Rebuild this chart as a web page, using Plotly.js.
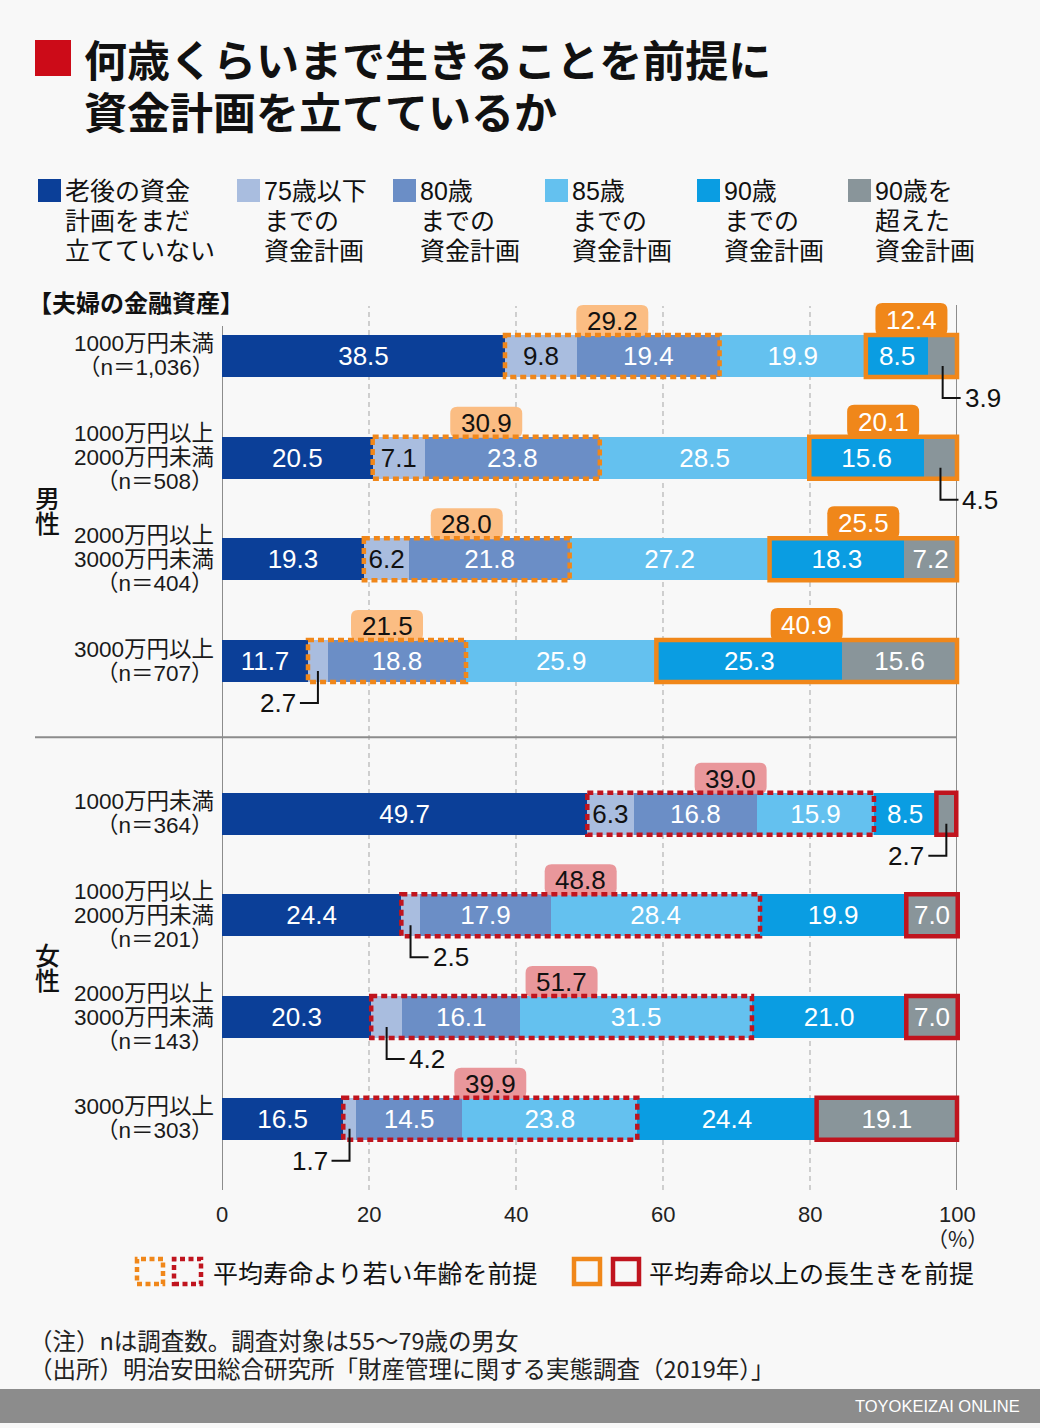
<!DOCTYPE html>
<html><head><meta charset="utf-8">
<script src="https://cdn.plot.ly/plotly-3.0.1.min.js"></script>
<style>html,body{margin:0;padding:0;background:#f8f8f8;}#chart{width:1040px;height:1428px;}</style>
</head><body><div id="chart"></div>
<script>
// ---------- DATA ----------
const titleLines = ['何歳くらいまで生きることを前提に', '資金計画を立てているか'];
const groupLabels = ['男性', '女性'];
const sectionLabel = '【夫婦の金融資産】';
const rowLabels = [
  ['1000万円未満', '（n＝1,036）'],
  ['1000万円以上', '2000万円未満', '（n＝508）'],
  ['2000万円以上', '3000万円未満', '（n＝404）'],
  ['3000万円以上', '（n＝707）'],
  ['1000万円未満', '（n＝364）'],
  ['1000万円以上', '2000万円未満', '（n＝201）'],
  ['2000万円以上', '3000万円未満', '（n＝143）'],
  ['3000万円以上', '（n＝303）']
];
const seriesNames = ['老後の資金計画をまだ立てていない', '75歳以下までの資金計画', '80歳までの資金計画', '85歳までの資金計画', '90歳までの資金計画', '90歳を超えた資金計画'];
const legendLines = [
  ['老後の資金', '計画をまだ', '立てていない'],
  ['75歳以下', 'までの', '資金計画'],
  ['80歳', 'までの', '資金計画'],
  ['85歳', 'までの', '資金計画'],
  ['90歳', 'までの', '資金計画'],
  ['90歳を', '超えた', '資金計画']
];
const notPlanned = [38.5, 20.5, 19.3, 11.7, 49.7, 24.4, 20.3, 16.5];
const upTo75     = [9.8, 7.1, 6.2, 2.7, 6.3, 2.5, 4.2, 1.7];
const upTo80     = [19.4, 23.8, 21.8, 18.8, 16.8, 17.9, 16.1, 14.5];
const upTo85     = [19.9, 28.5, 27.2, 25.9, 15.9, 28.4, 31.5, 23.8];
const upTo90     = [8.5, 15.6, 18.3, 25.3, 8.5, 19.9, 21.0, 24.4];
const over90     = [3.9, 4.5, 7.2, 15.6, 2.7, 7.0, 7.0, 19.1];
const youngerTotals = [29.2, 30.9, 28.0, 21.5, 39.0, 48.8, 51.7, 39.9];
const longerTotals  = [12.4, 20.1, 25.5, 40.9, null, null, null, null];
const xTicks = [0, 20, 40, 60, 80, 100];
const boxLegend = ['平均寿命より若い年齢を前提', '平均寿命以上の長生きを前提'];
const notes = ['（注）nは調査数。調査対象は55～79歳の男女', '（出所）明治安田総合研究所「財産管理に関する実態調査（2019年）」'];
const credit = 'TOYOKEIZAI ONLINE';

// ---------- STYLE / LAYOUT CONSTANTS ----------
const JP = "'Noto Sans CJK JP', sans-serif";
const NUM = "'Liberation Sans', 'Noto Sans CJK JP', sans-serif";
const colors = ['#0b3f98', '#a9bddf', '#6b8ec6', '#64c1ef', '#0a9de2', '#89959a'];
const textColors = ['#ffffff', '#111111', '#ffffff', '#ffffff', '#ffffff', '#ffffff'];
const ORANGE = '#f0871a', ORANGE_L = '#fbbd83', RED = '#c0141e', PINK = '#e9979b';
const rowPos = [0, 1, 2, 3, 4.5, 5.5, 6.5, 7.5];
const isMale = [true, true, true, true, false, false, false, false];
const calloutSide = ['right', 'right', null, 'left', 'left', 'right', 'right', 'left'];
const L = 222, R = 957, T = 300, B = 1190, W = 1040, H = 1428;
const YTOP = -0.55, YBOT = 8.2;
const PXX = (R - L) / 100, PXY = (B - T) / (YBOT - YTOP);
const BAR_H = 42 / PXY;
const xp = px => (px - L) / (R - L);
const yp = py => (B - py) / (B - T);
const dxp = x => x / 100;                       // data x -> paper x
const dyp = y => (YBOT - y) / (YBOT - YTOP);    // data y -> paper y

const series = [notPlanned, upTo75, upTo80, upTo85, upTo90, over90];

const traces = series.map((vals, s) => ({
  type: 'bar', orientation: 'h', name: seriesNames[s], x: vals, y: rowPos, width: BAR_H,
  marker: {color: colors[s], line: {width: 0}},
  text: vals.map(v => v < 5 ? '' : v.toFixed(1)),
  textposition: 'inside', insidetextanchor: 'middle', textangle: 0, constraintext: 'none',
  textfont: {family: NUM, size: 26, color: textColors[s]},
  hoverinfo: 'skip', showlegend: false
}));

const shapes = [];
const annotations = [];
function txt(text, px, py, size, o) {
  o = o || {};
  annotations.push({xref: 'paper', yref: 'paper', x: xp(px), y: yp(py), text: text, showarrow: false,
    xanchor: o.xa || 'left', yanchor: 'middle', borderpad: 0,
    font: {family: o.family || JP, size: size, color: o.color || '#111', weight: o.weight || 400}});
}

// grid lines & axis lines
[20, 40, 60, 80].forEach(v => shapes.push({type: 'line', xref: 'x', yref: 'paper', x0: v, x1: v, y0: 0, y1: yp(306), line: {color: '#b4b4b4', width: 1.2, dash: '5px,4px'}, layer: 'below'}));
shapes.push({type: 'line', xref: 'x', yref: 'paper', x0: 100, x1: 100, y0: 0, y1: yp(305), line: {color: '#8c8c8c', width: 2}, layer: 'below'});
shapes.push({type: 'line', xref: 'x', yref: 'paper', x0: 0, x1: 0, y0: 0, y1: yp(326), line: {color: '#8c8c8c', width: 2}, layer: 'below'});
shapes.push({type: 'line', xref: 'paper', yref: 'y', x0: xp(35), x1: 1, y0: 3.75, y1: 3.75, line: {color: '#8c8c8c', width: 2}, layer: 'below'});

// cumulative starts
const starts = rowPos.map((_, r) => { let c = 0; return series.map(vals => { const st = c; c += vals[r]; return st; }); });
function spanOf(r, a, b) { const x0 = starts[r][a]; const x1 = starts[r][b] + series[b][r]; return [x0, x1]; }

function roundRect(xc, ytopPx, wpx, hpx, rpx, pos) {
  const xs = wpx / 2 / PXX, rx = rpx / PXX, ry = rpx / PXY;
  const y0 = pos + ytopPx / PXY, y1 = pos + (ytopPx + hpx) / PXY;
  const a = xc - xs, b = xc + xs;
  return `M${a + rx},${y0} L${b - rx},${y0} Q${b},${y0} ${b},${y0 + ry} L${b},${y1 - ry} Q${b},${y1} ${b - rx},${y1} L${a + rx},${y1} Q${a},${y1} ${a},${y1 - ry} L${a},${y0 + ry} Q${a},${y0} ${a + rx},${y0} Z`;
}

rowPos.forEach((pos, r) => {
  const male = isMale[r];
  const yTop = pos - BAR_H / 2, yBot = pos + BAR_H / 2;
  const ys = male ? spanOf(r, 1, 2) : spanOf(r, 1, 3);
  const ls = male ? spanOf(r, 4, 5) : spanOf(r, 5, 5);
  const yc = (ys[0] + ys[1]) / 2;
  shapes.push({type: 'path', xref: 'x', yref: 'y', path: roundRect(yc, -21 - 30, 72, 31, 7, pos), fillcolor: male ? ORANGE_L : PINK, line: {width: 0}, layer: 'above'});
  annotations.push({xref: 'x', yref: 'y', x: yc, y: pos + (-21 - 14) / PXY, text: youngerTotals[r].toFixed(1), showarrow: false, borderpad: 0,
    font: {family: NUM, size: 26, color: '#111'}});
  shapes.push({type: 'rect', xref: 'x', yref: 'y', x0: ys[0], x1: ys[1], y0: yTop, y1: yBot, line: {color: male ? ORANGE : RED, width: 4.5, dash: '6px,4px'}, layer: 'above'});
  if (longerTotals[r] !== null) {
    const lc = (ls[0] + ls[1]) / 2;
    shapes.push({type: 'path', xref: 'x', yref: 'y', path: roundRect(lc, -21 - 32, 72, 33, 7, pos), fillcolor: ORANGE, line: {width: 0}, layer: 'above'});
    annotations.push({xref: 'x', yref: 'y', x: lc, y: pos + (-21 - 15) / PXY, text: longerTotals[r].toFixed(1), showarrow: false, borderpad: 0,
      font: {family: NUM, size: 26, color: '#ffffff'}});
  }
  shapes.push({type: 'rect', xref: 'paper', yref: 'paper', x0: dxp(ls[0]), x1: dxp(ls[1]), y0: dyp(yTop), y1: dyp(yBot), line: {color: male ? ORANGE : RED, width: 4.5}, layer: 'above'});
  // callouts for small values (paper coords so they may leave the plot area)
  series.forEach((vals, s) => {
    const v = vals[r];
    if (v >= 5) return;
    const xc = starts[r][s] + v / 2;
    const y0 = pos + 10 / PXY, y1 = pos + 42 / PXY;
    const dir = calloutSide[r] === 'left' ? -1 : 1;
    const xe = xc + dir * 18 / PXX;
    shapes.push({type: 'path', xref: 'paper', yref: 'paper', path: `M${dxp(xc)},${dyp(y0)} L${dxp(xc)},${dyp(y1)} L${dxp(xe)},${dyp(y1)}`, line: {color: '#111', width: 2}, layer: 'above'});
    annotations.push({xref: 'paper', yref: 'paper', x: dxp(xe), y: dyp(y1), xshift: dir * 3, text: v.toFixed(1), showarrow: false, borderpad: 0,
      xanchor: dir < 0 ? 'right' : 'left', yanchor: 'middle', font: {family: NUM, size: 26, color: '#111'}});
  });
  const lines = rowLabels[r];
  const cy = T + (pos - YTOP) * PXY;
  lines.forEach((ln, i) => {
    txt(ln, 215, cy + (i - (lines.length - 1) / 2) * 24, 22.5, {xa: 'right', family: NUM, color: '#1a1a1a'});
  });
});

// group labels (vertical)
[[0, 3], [4, 7]].forEach((g, gi) => {
  const cy = T + ((rowPos[g[0]] + rowPos[g[1]]) / 2 - YTOP) * PXY;
  const chars = groupLabels[gi].split('');
  chars.forEach((ch, i) => txt(ch, 47, cy - 12 + i * 25, 25, {xa: 'center', weight: 500}));
});

// title
shapes.push({type: 'rect', xref: 'paper', yref: 'paper', x0: xp(35), x1: xp(71), y0: yp(76), y1: yp(40), fillcolor: '#cc0b18', line: {width: 0}});
titleLines.forEach((t, i) => txt(t, 83, 58 + i * 52, 43, {weight: 700, color: '#111'}));

// top legend
const legSq = [38, 237, 393, 545, 697, 848];
legendLines.forEach((lines, s) => {
  shapes.push({type: 'rect', xref: 'paper', yref: 'paper', x0: xp(legSq[s]), x1: xp(legSq[s] + 23), y0: yp(202), y1: yp(179), fillcolor: colors[s], line: {width: 0}});
  lines.forEach((ln, i) => txt(ln, legSq[s] + 26, 191 + i * 30, 25, {family: NUM}));
});

// section label
txt(sectionLabel, 27, 301, 24, {weight: 700});

// x tick labels
xTicks.forEach(v => annotations.push({xref: 'x', yref: 'paper', x: v, y: yp(1214), text: String(v), showarrow: false, yanchor: 'middle', borderpad: 0, font: {family: NUM, size: 22, color: '#222'}}));
annotations.push({xref: 'x', yref: 'paper', x: 100, y: yp(1238), text: '（%）', showarrow: false, yanchor: 'middle', borderpad: 0, font: {family: JP, size: 21, color: '#222'}});

// bottom legend
function boxIcon(x0, x1, color, dash) {
  shapes.push({type: 'rect', xref: 'paper', yref: 'paper', x0: xp(x0), x1: xp(x1), y0: yp(1284), y1: yp(1259), line: {color: color, width: 4.5, dash: dash}});
}
boxIcon(137, 163, ORANGE, '5px,3.5px');
boxIcon(174, 201, RED, '5px,3.5px');
txt(boxLegend[0], 212, 1272, 25);
boxIcon(574, 600, ORANGE, 'solid');
boxIcon(613, 639, RED, 'solid');
txt(boxLegend[1], 648, 1272, 25);

// notes
notes.forEach((n, i) => txt(n, 28, 1340 + i * 28, 23.5, {color: '#222'}));

// footer
shapes.push({type: 'rect', xref: 'paper', yref: 'paper', x0: xp(0), x1: xp(W), y0: yp(1423), y1: yp(1389), fillcolor: '#8c8c8c', line: {width: 0}, layer: 'below'});
txt(credit, 1021, 1406, 16.5, {xa: 'right', family: "'Liberation Sans', sans-serif", color: '#ffffff'});

const layout = {
  width: W, height: H,
  margin: {l: L, r: W - R, t: T, b: H - B, pad: 0},
  paper_bgcolor: '#f8f8f8', plot_bgcolor: '#f8f8f8',
  barmode: 'stack', showlegend: false,
  xaxis: {range: [0, 100], showgrid: false, zeroline: false, showline: false, showticklabels: false, ticks: '', fixedrange: true},
  yaxis: {range: [YBOT, YTOP], visible: false, fixedrange: true},
  shapes: shapes, annotations: annotations,
  font: {family: JP}
};
Plotly.newPlot('chart', traces, layout, {displayModeBar: false, staticPlot: true});
</script></body></html>
